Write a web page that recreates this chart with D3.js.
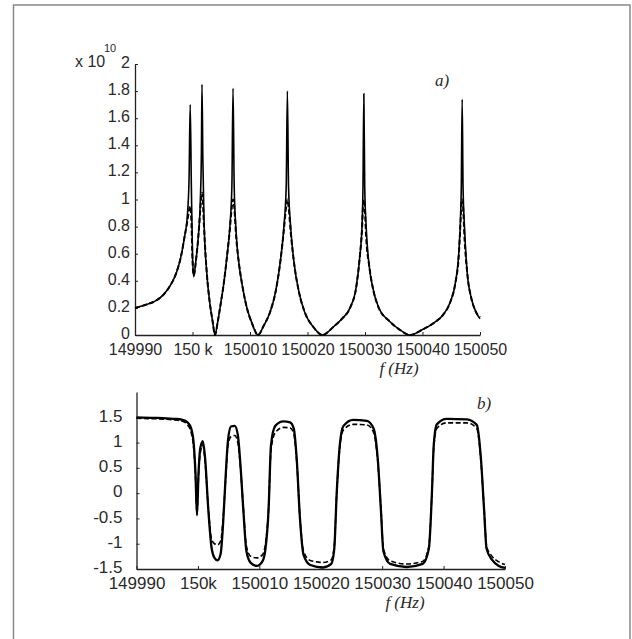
<!DOCTYPE html>
<html>
<head>
<meta charset="utf-8">
<script src="https://cdn.jsdelivr.net/npm/d3@7"></script>
<style>
  body { margin: 0; background: #fff; }
  .tick text { font-family: "Liberation Sans", Arial, Helvetica, sans-serif; fill: #2a2a2a; }
  .lbl { font-family: "Liberation Serif", "Times New Roman", serif; font-style: italic; fill: #2a2a2a; }
  .exp { font-family: "Liberation Sans", Arial, Helvetica, sans-serif; fill: #2a2a2a; }
</style>
</head>
<body>
<div id="wrapper"></div>
<script>
// ---- data ----

// a) magnitude (x 10^10)
const freqA = [
  149990.0, 149992.0, 149993.5, 149995.0, 149996.2, 149997.2, 149998.0, 149998.6, 149999.1, 149999.4,
  149999.6, 149999.8, 150000.0, 150000.2, 150000.6, 150001.0, 150001.35, 150001.55, 150001.65, 150001.8,
  150002.0, 150002.5, 150003.0, 150003.5, 150003.9, 150004.4, 150004.9, 150005.5, 150006.0, 150006.5,
  150006.85, 150007.05, 150007.25, 150007.6, 150008.1, 150008.6, 150009.4, 150010.4, 150011.4, 150012.4,
  150013.5, 150014.5, 150015.3, 150015.9, 150016.3, 150016.5, 150016.7, 150017.1, 150017.7, 150018.5,
  150019.5, 150021.0, 150022.6, 150024.5, 150026.0, 150027.4, 150028.5, 150029.1, 150029.5, 150029.65,
  150029.8, 150029.95, 150030.2, 150030.7, 150031.3, 150032.3, 150034.3, 150036.0, 150037.8, 150040.0,
  150042.0, 150043.6, 150044.8, 150045.7, 150046.3, 150046.6, 150046.75, 150046.9, 150047.05, 150047.3,
  150047.8, 150048.5, 150049.3, 150050.0
]
const magSolid = [
  0.20, 0.225, 0.25, 0.30, 0.37, 0.46, 0.58, 0.72, 0.88, 1.15,
  1.70, 1.10, 0.60, 0.43, 0.55, 0.72, 0.98, 1.35, 1.85, 1.30,
  0.85, 0.45, 0.24, 0.10, 0.00, 0.10, 0.23, 0.40, 0.58, 0.80,
  1.10, 1.82, 1.10, 0.75, 0.52, 0.38, 0.21, 0.08, 0.00, 0.07,
  0.17, 0.33, 0.55, 0.80, 1.10, 1.80, 1.10, 0.78, 0.52, 0.32,
  0.17, 0.06, 0.00, 0.06, 0.12, 0.20, 0.36, 0.58, 0.82, 1.10,
  1.78, 1.10, 0.80, 0.52, 0.36, 0.21, 0.10, 0.04, 0.00, 0.04,
  0.09, 0.15, 0.24, 0.38, 0.60, 0.85, 1.10, 1.74, 1.10, 0.80,
  0.45, 0.27, 0.17, 0.12
]
const magDashed = [
  0.20, 0.225, 0.25, 0.30, 0.37, 0.46, 0.58, 0.72, 0.84, 0.92,
  0.95, 0.85, 0.55, 0.44, 0.55, 0.72, 0.92, 1.03, 1.05, 0.98,
  0.80, 0.45, 0.24, 0.10, 0.00, 0.10, 0.23, 0.40, 0.58, 0.78,
  0.95, 1.00, 0.95, 0.72, 0.52, 0.38, 0.21, 0.08, 0.00, 0.07,
  0.17, 0.33, 0.55, 0.78, 0.95, 1.00, 0.95, 0.75, 0.52, 0.32,
  0.17, 0.06, 0.00, 0.06, 0.12, 0.20, 0.36, 0.58, 0.80, 0.95,
  1.00, 0.95, 0.72, 0.52, 0.36, 0.21, 0.10, 0.04, 0.00, 0.04,
  0.09, 0.15, 0.24, 0.38, 0.58, 0.82, 0.95, 1.00, 0.95, 0.72,
  0.45, 0.27, 0.17, 0.13
]

// b) phase
const freqB = [
  149990.0, 149993.0, 149996.0, 149997.5, 149998.3, 149998.9, 149999.3, 149999.6, 149999.85, 150000.1,
  150000.4, 150000.8, 150001.15, 150001.7, 150002.2, 150002.7, 150003.2, 150003.7, 150004.1, 150004.5,
  150004.9, 150005.4, 150006.0, 150006.5, 150006.9, 150007.4, 150007.9, 150008.6, 150009.6, 150010.5,
  150011.0, 150011.5, 150011.9, 150012.6, 150013.9, 150015.0, 150015.6, 150016.1, 150016.6, 150017.2,
  150018.3, 150020.4, 150021.7, 150022.2, 150022.6, 150023.1, 150023.7, 150025.3, 150027.5, 150028.6,
  150029.3, 150029.8, 150030.2, 150031.3, 150034.0, 150036.6, 150037.6, 150038.1, 150038.4, 150038.9,
  150040.5, 150043.8, 150045.4, 150046.1, 150046.6, 150047.0, 150047.9, 150049.0, 150050.0
]
const phaseSolid = [
  1.50, 1.49, 1.47, 1.45, 1.40, 1.28, 1.00, 0.40, -0.44, 0.40,
  0.90, 1.03, 0.72, -0.34, -1.06, -1.28, -1.33, -1.20, -0.60, 0.30,
  1.05, 1.32, 1.33, 1.15, 0.60, -0.34, -1.15, -1.38, -1.44, -1.35,
  -1.10, -0.34, 0.95, 1.33, 1.42, 1.40, 1.28, 0.65, -0.47, -1.22,
  -1.42, -1.47, -1.40, -1.10, 0.00, 0.95, 1.33, 1.45, 1.43, 1.28,
  0.65, -0.34, -1.15, -1.40, -1.46, -1.40, -1.10, 0.00, 0.95, 1.36,
  1.47, 1.46, 1.35, 0.65, -0.34, -1.10, -1.32, -1.44, -1.48
]
const phaseDashed = [
  1.48, 1.47, 1.45, 1.42, 1.35, 1.20, 0.90, 0.35, -0.40, 0.35,
  0.80, 0.95, 0.65, -0.30, -0.90, -1.00, -1.02, -0.95, -0.50, 0.25,
  0.95, 1.12, 1.14, 1.00, 0.55, -0.30, -1.05, -1.25, -1.28, -1.22,
  -1.00, -0.30, 0.85, 1.20, 1.30, 1.29, 1.18, 0.60, -0.45, -1.15,
  -1.33, -1.37, -1.32, -1.05, 0.00, 0.90, 1.25, 1.36, 1.35, 1.20,
  0.60, -0.30, -1.10, -1.34, -1.40, -1.35, -1.05, 0.00, 0.90, 1.28,
  1.39, 1.39, 1.28, 0.60, -0.30, -1.05, -1.25, -1.36, -1.41
]

const xTicks = [149990, 150000, 150010, 150020, 150030, 150040, 150050]
const xTickLabelsA = ["149990", "150 k", "150010", "150020", "150030", "150040", "150050"]
const xTickLabelsB = ["149990", "150k", "150010", "150020", "150030", "150040", "150050"]
const yTicksA = [0, 0.2, 0.4, 0.6, 0.8, 1, 1.2, 1.4, 1.6, 1.8, 2]
const yTicksB = [-1.5, -1, -0.5, 0, 0.5, 1, 1.5]

// ---- canvas ----
const width = 632
const height = 639

const svg = d3.select("#wrapper")
  .append("svg")
    .attr("width", width)
    .attr("height", height)

// outer frame
svg.append("rect")
    .attr("x", 13.5)
    .attr("y", 5)
    .attr("width", 616.5)
    .attr("height", 650)
    .attr("fill", "none")
    .attr("stroke", "#888")
    .attr("stroke-width", 1.5)

function drawPanel(opts) {
  const { xRange, yRange, yDomain, freq, solid, dashed, yTicks, xLabels,
          yFont, xFont, yPad, xPad, solidW, dashedW } = opts

  const xScale = d3.scaleLinear()
    .domain([149990, 150050])
    .range(xRange)
  const yScale = d3.scaleLinear()
    .domain(yDomain)
    .range(yRange)

  const xAxis = d3.axisBottom(xScale)
    .tickValues(xTicks)
    .tickFormat((d, i) => xLabels[i])
    .tickSize(-3)
    .tickSizeOuter(0)
    .tickPadding(xPad)
  const yAxis = d3.axisLeft(yScale)
    .tickValues(yTicks)
    .tickFormat(d => String(d))   // plain hyphen, like the original
    .tickSize(-3)
    .tickSizeOuter(0)
    .tickPadding(yPad)

  const gx = svg.append("g")
      .attr("transform", `translate(0, ${yRange[0]})`)
      .call(xAxis)
      .attr("font-family", null)
  gx.selectAll("text").style("font-size", xFont + "px")

  const gy = svg.append("g")
      .attr("transform", `translate(${xRange[0]}, 0)`)
      .call(yAxis)
      .attr("font-family", null)
  gy.selectAll("text")
      .style("font-size", yFont + "px")
      .attr("dy", "0.22em")

  svg.selectAll(".domain").attr("stroke", "#222").attr("stroke-width", 1.3)
  svg.selectAll(".tick line").attr("stroke", "#222")

  const line = d3.line()
    .x(d => xScale(d[0]))
    .y(d => yScale(d[1]))
    .curve(d3.curveMonotoneX)

  svg.append("path")
      .datum(freq.map((f, i) => [f, solid[i]]))
      .attr("d", line)
      .attr("fill", "none")
      .attr("stroke", "#000")
      .attr("stroke-width", solidW)

  svg.append("path")
      .datum(freq.map((f, i) => [f, dashed[i]]))
      .attr("d", line)
      .attr("fill", "none")
      .attr("stroke", "#000")
      .attr("stroke-width", dashedW)
      .attr("stroke-dasharray", "5,2.5")
}

// a) magnitude
drawPanel({
  xRange: [135, 480], yRange: [335, 64], yDomain: [0, 2],
  freq: freqA, solid: magSolid, dashed: magDashed,
  yTicks: yTicksA, xLabels: xTickLabelsA,
  yFont: 16, xFont: 16, yPad: 5, xPad: 9, solidW: 1.6, dashedW: 2
})

// b) phase
drawPanel({
  xRange: [136.5, 505], yRange: [569, 392], yDomain: [-1.5, 2],
  freq: freqB, solid: phaseSolid, dashed: phaseDashed,
  yTicks: yTicksB, xLabels: xTickLabelsB,
  yFont: 17, xFont: 17, yPad: 14, xPad: 8, solidW: 2.3, dashedW: 1.6
})

// exponent label
svg.append("text").attr("class", "exp")
    .attr("x", 75)
    .attr("y", 67)
    .style("font-size", "16px")
    .text("x 10")
svg.append("text").attr("class", "exp")
    .attr("x", 104)
    .attr("y", 52)
    .style("font-size", "11px")
    .text("10")

// panel labels
svg.append("text").attr("class", "lbl")
    .attr("x", 435).attr("y", 86)
    .style("font-size", "17px")
    .text("a)")
svg.append("text").attr("class", "lbl")
    .attr("x", 477).attr("y", 409)
    .style("font-size", "17px")
    .text("b)")

svg.append("text").attr("class", "lbl")
    .attr("x", 399).attr("y", 374)
    .attr("text-anchor", "middle")
    .style("font-size", "17px")
    .text("f (Hz)")
svg.append("text").attr("class", "lbl")
    .attr("x", 405).attr("y", 608)
    .attr("text-anchor", "middle")
    .style("font-size", "17px")
    .text("f (Hz)")
</script>
</body>
</html>
